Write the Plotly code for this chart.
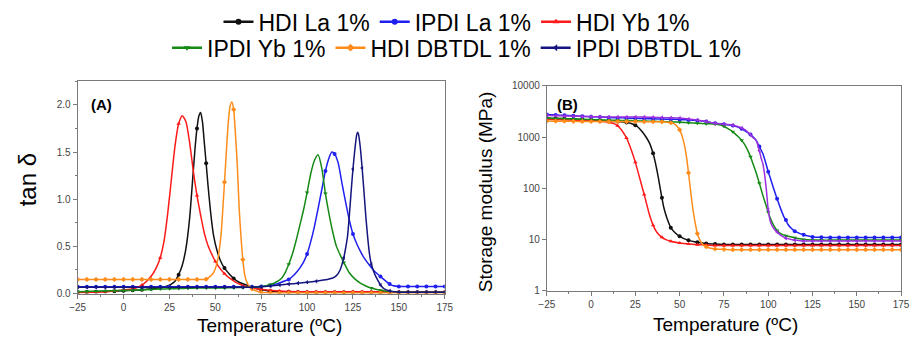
import plotly.graph_objects as go

# ---------------- Data (temperature °C, value) ----------------
series_names = ["HDI La 1%", "IPDI La 1%", "HDI Yb 1%", "IPDI Yb 1%", "HDI DBTDL 1%", "IPDI DBTDL 1%"]

# Panel A: tan delta
A_HDI_La = [(-25,0.015),(-20,0.017),(-15,0.02),(-10,0.022),(-5,0.025),(0,0.03),(5,0.035),(10,0.04),(15,0.05),(20,0.06),
            (23,0.075),(26,0.1),(28,0.13),(30,0.2),(32,0.3),(34,0.48),(36,0.8),(38,1.3),(39,1.55),(40,1.75),(41,1.88),
            (42,1.92),(43,1.82),(44,1.6),(45,1.38),(46,1.15),(47.5,0.85),(49,0.62),(51,0.45),(53,0.34),(55,0.27),(58,0.2),
            (60,0.16),(63,0.12),(67,0.09),(70,0.065),(75,0.04),(80,0.025),(85,0.02),(90,0.018),(95,0.016),(100,0.015),
            (105,0.015),(110,0.015),(115,0.015),(120,0.015),(125,0.015),(130,0.015),(135,0.015),(140,0.015),(145,0.015),
            (150,0.015),(155,0.015),(160,0.015),(165,0.015),(170,0.015),(175,0.015)]
A_IPDI_La = [(-25,0.072),(-20,0.072),(-15,0.072),(-10,0.072),(-5,0.072),(0,0.072),(5,0.072),(10,0.072),(15,0.072),(20,0.072),
             (25,0.072),(30,0.072),(35,0.072),(40,0.072),(45,0.072),(50,0.072),(55,0.072),(60,0.072),(65,0.072),(70,0.072),
             (75,0.074),(80,0.085),(83,0.1),(86,0.12),(88,0.135),(90,0.15),(92,0.18),(94,0.22),(96,0.27),(98,0.33),(100,0.42),
             (102,0.55),(104,0.71),(106,0.9),(108,1.1),(110,1.3),(112,1.44),(113.5,1.5),(115,1.48),(117,1.38),(119,1.17),
             (121,0.97),(123,0.78),(125,0.63),(127,0.53),(129,0.45),(131,0.38),(134,0.3),(137,0.23),(140,0.18),(143,0.13),
             (145,0.1),(147,0.082),(150,0.075),(155,0.075),(160,0.075),(165,0.075),(170,0.075),(175,0.075)]
A_HDI_Yb = [(-25,0.01),(-20,0.012),(-15,0.015),(-10,0.02),(-5,0.028),(0,0.038),(5,0.05),(8,0.07),(10,0.09),(12,0.12),(14,0.16),
            (16,0.21),(18,0.28),(20,0.38),(22,0.55),(24,0.84),(26,1.2),(28,1.56),(30,1.8),(32,1.885),(34,1.82),(36,1.6),
            (38,1.3),(40,1.04),(42,0.83),(44,0.64),(46,0.51),(48,0.42),(50,0.34),(52,0.28),(55,0.21),(58,0.16),(62,0.11),
            (66,0.08),(70,0.06),(75,0.045),(80,0.035),(85,0.027),(90,0.022),(95,0.02),(100,0.02),(105,0.02),(110,0.02),
            (115,0.02),(120,0.02),(125,0.02),(130,0.02),(135,0.02),(140,0.02),(145,0.02),(150,0.02),(155,0.02),(160,0.02),
            (165,0.02),(170,0.02),(175,0.02)]
A_IPDI_Yb = [(-25,0.02),(-20,0.022),(-15,0.025),(-10,0.028),(-5,0.03),(0,0.033),(5,0.036),(10,0.04),(15,0.043),(20,0.047),
             (25,0.05),(30,0.053),(35,0.056),(40,0.058),(45,0.06),(50,0.06),(55,0.06),(60,0.062),(65,0.064),(70,0.067),
             (75,0.072),(78,0.085),(80,0.095),(83,0.12),(86,0.16),(88,0.22),(90,0.31),(92,0.42),(94,0.56),(96,0.72),(98,0.88),
             (100,1.07),(102,1.27),(104,1.41),(106,1.47),(108,1.33),(110,1.06),(112,0.84),(114,0.65),(116,0.5),(118,0.41),
             (120,0.33),(123,0.22),(126,0.155),(129,0.11),(132,0.08),(135,0.058),(140,0.035),(145,0.022),(150,0.017),
             (155,0.015),(160,0.015),(165,0.015),(170,0.015),(175,0.015)]
A_HDI_DBTDL = [(-25,0.15),(-20,0.15),(-15,0.15),(-10,0.15),(-5,0.15),(0,0.15),(5,0.15),(10,0.15),(15,0.15),(20,0.15),
               (25,0.15),(30,0.15),(35,0.15),(40,0.15),(45,0.152),(47,0.18),(49,0.22),(51,0.33),(53,0.6),(55,1.18),(56,1.5),
               (57,1.8),(58,1.98),(59,2.03),(60,1.95),(61,1.68),(62,1.35),(63,0.9),(64,0.6),(65,0.36),(66,0.2),(67,0.13),
               (68,0.09),(70,0.05),(72,0.03),(75,0.012),(80,0.007),(85,0.005),(90,0.005),(95,0.005),(100,0.005),(105,0.005),
               (110,0.005),(115,0.005),(120,0.005),(125,0.005),(130,0.005),(135,0.005),(140,0.005),(145,0.005),(150,0.005),
               (155,0.005),(160,0.005),(165,0.005),(170,0.005),(175,0.005)]
A_IPDI_DBTDL = [(-25,0.066),(-20,0.066),(-15,0.066),(-10,0.066),(-5,0.066),(0,0.066),(5,0.066),(10,0.066),(15,0.066),(20,0.066),
                (25,0.066),(30,0.066),(35,0.066),(40,0.066),(45,0.066),(50,0.066),(55,0.066),(60,0.066),(65,0.067),(70,0.068),
                (75,0.072),(80,0.08),(85,0.09),(90,0.1),(95,0.11),(100,0.12),(105,0.13),(108,0.14),(111,0.15),(114,0.165),
                (116,0.19),(118,0.25),(120,0.38),(121,0.48),(122,0.6),(123,0.82),(124,1.08),(125,1.32),(126,1.52),(127,1.68),
                (127.5,1.71),(128,1.69),(129,1.55),(130,1.33),(131,1.08),(132,0.82),(133,0.6),(134,0.42),(135,0.31),(136,0.25),
                (137,0.2),(138,0.16),(140,0.09),(142,0.05),(145,0.028),(148,0.018),(150,0.015),(155,0.015),(160,0.015),
                (165,0.015),(170,0.015),(175,0.015)]

# Panel B: storage modulus (MPa)
B_HDI_La = [(-25,2350),(-20,2300),(-15,2280),(-10,2250),(-5,2200),(0,2150),(5,2100),(10,2050),(15,2000),(20,1920),(23,1820),
            (25,1700),(27,1500),(29,1250),(31,1000),(33,760),(35,480),(36,350),(37,240),(38,160),(39,100),(40,65),(41,43),
            (42,32),(43,25),(45,17),(47,14),(50,11.5),(55,9.6),(60,8.8),(65,8.3),(70,8.1),(75,8.0),(80,8.0),(85,8.0),(90,8.0),
            (95,8.0),(100,8.0),(105,8.0),(110,8.0),(115,8.0),(120,8.0),(125,8.0),(130,8.0),(135,8.0),(140,8.0),(145,8.0),
            (150,8.0),(155,8.0),(160,8.0),(165,8.0),(170,8.0),(175,8.0)]
B_IPDI_La = [(-25,2750),(-20,2700),(-15,2650),(-10,2600),(-5,2550),(0,2500),(5,2450),(10,2400),(15,2380),(20,2350),(25,2320),
             (30,2300),(35,2270),(40,2250),(45,2220),(50,2200),(55,2150),(60,2100),(65,2000),(70,1850),(75,1780),(80,1680),
             (85,1450),(88,1250),(90,1120),(93,880),(95,650),(97,470),(99,280),(100,210),(101,165),(103,100),(105,62),(107,40),
             (109,27),(110,24),(111,20),(113,16.5),(115,14.5),(117,13.4),(120,12.3),(122,11.8),(125,11.2),(130,11.0),
             (135,10.9),(140,10.9),(145,10.9),(150,10.9),(155,10.9),(160,10.9),(165,10.9),(170,10.9),(175,10.9)]
B_HDI_Yb = [(-25,2250),(-20,2200),(-15,2170),(-10,2130),(-5,2100),(0,2070),(5,2040),(10,1950),(13,1820),(15,1650),(17,1400),
            (19,1100),(20,960),(21,800),(23,520),(25,320),(27,180),(29,100),(30,75),(31,55),(33,30),(35,19),(37,14),(40,11),
            (42,10),(45,9.2),(50,8.5),(55,8.1),(60,7.9),(65,7.8),(70,7.6),(75,7.6),(80,7.6),(85,7.6),(90,7.6),(95,7.6),
            (100,7.6),(105,7.6),(110,7.6),(115,7.6),(120,7.6),(125,7.6),(130,7.6),(135,7.6),(140,7.6),(145,7.6),(150,7.6),
            (155,7.6),(160,7.6),(165,7.6),(170,7.6),(175,7.6)]
B_IPDI_Yb = [(-25,2350),(-20,2300),(-15,2280),(-10,2250),(-5,2220),(0,2200),(5,2170),(10,2150),(15,2120),(20,2100),(25,2080),
             (30,2050),(35,2030),(40,2000),(45,1980),(50,1950),(55,1900),(60,1850),(65,1820),(70,1800),(73,1720),(75,1620),
             (77,1480),(79,1340),(80,1260),(81,1180),(83,1020),(85,860),(87,690),(89,500),(90,410),(91,330),(93,210),(95,125),
             (97,72),(99,44),(100,34),(101,27),(103,19),(105,15),(107,13),(110,11.8),(114,11),(115,10.8),(117,10.4),(120,10),
             (125,9.8),(130,9.7),(135,9.7),(140,9.7),(145,9.7),(150,9.7),(155,9.7),(160,9.7),(165,9.7),(170,9.7),(175,9.7)]
B_HDI_DBTDL = [(-25,2050),(-20,2040),(-15,2030),(-10,2020),(-5,2015),(0,2010),(5,2005),(10,2000),(15,2000),(20,2000),
               (25,2000),(30,1990),(35,1985),(40,1980),(45,1900),(47,1800),(49,1550),(50,1380),(51,1150),(52,880),(53,620),
               (54,380),(55,200),(56,100),(57,52),(58,30),(59,19),(60,13),(61,10.5),(62,9),(63,8),(65,7.2),(67,6.8),(70,6.5),
               (75,6.4),(80,6.3),(85,6.3),(90,6.3),(95,6.3),(100,6.3),(105,6.3),(110,6.3),(115,6.3),(120,6.3),(125,6.3),
               (130,6.3),(135,6.3),(140,6.3),(145,6.3),(150,6.3),(155,6.3),(160,6.3),(165,6.3),(170,6.3),(175,6.3)]
B_IPDI_DBTDL = [(-25,2650),(-20,2600),(-15,2580),(-10,2550),(-5,2520),(0,2500),(5,2480),(10,2450),(15,2450),(20,2450),
                (25,2450),(30,2450),(35,2420),(40,2400),(45,2380),(50,2350),(55,2250),(60,2150),(65,2000),(70,1850),(75,1780),
                (80,1700),(84,1550),(85,1500),(87,1380),(89,1200),(90,1110),(91,1000),(93,880),(94,720),(95,540),(96,390),
                (97,300),(98,180),(99,90),(100,38),(101,24),(102,19),(104,15),(105,14),(106,13),(108,11.5),(110,10.6),
                (114,9.8),(115,9.7),(118,9.4),(120,9.3),(125,9.3),(130,9.3),(135,9.3),(140,9.3),(145,9.3),(150,9.3),
                (155,9.3),(160,9.3),(165,9.3),(170,9.3),(175,9.3)]

x_ticks = [-25, 0, 25, 50, 75, 100, 125, 150, 175]
yA_ticks = [0.0, 0.5, 1.0, 1.5, 2.0]
yB_ticks = [1, 10, 100, 1000, 10000]

# ---------------- Styles ----------------
colors = ["#111111", "#1f1fef", "#ff1a1a", "#158a15", "#ff8c1a", "#15157f"]
colors_B = ["#111111", "#1f1fef", "#ff1a1a", "#158a15", "#ff8c1a", "#9b30e0"]
symbols = ["circle", "circle", "triangle-up", "triangle-down", "diamond", "triangle-left"]
FONT = "Liberation Sans, Arial, sans-serif"

A_data = [A_HDI_La, A_IPDI_La, A_HDI_Yb, A_IPDI_Yb, A_HDI_DBTDL, A_IPDI_DBTDL]
B_data = [B_HDI_La, B_IPDI_La, B_HDI_Yb, B_IPDI_Yb, B_HDI_DBTDL, B_IPDI_DBTDL]

fig = go.Figure()

def add_series(data, color, symbol, xa, ya):
    xs = [p[0] for p in data]
    ys = [p[1] for p in data]
    fig.add_trace(go.Scatter(x=xs, y=ys, mode="lines", line=dict(color=color, width=1.5, shape="spline", smoothing=0.6),
                             showlegend=False, hoverinfo="skip", xaxis=xa, yaxis=ya))
    mx = [p[0] for p in data if p[0] % 5 == 0]
    my = [p[1] for p in data if p[0] % 5 == 0]
    fig.add_trace(go.Scatter(x=mx, y=my, mode="markers", marker=dict(color=color, size=4, symbol=symbol),
                             showlegend=False, hoverinfo="skip", xaxis=xa, yaxis=ya))

for i in range(6):
    add_series(A_data[i], colors[i], symbols[i], "x", "y")
for i in range(6):
    add_series(B_data[i], colors_B[i], symbols[i], "x2", "y2")

# legend entries (no data)
for i, name in enumerate(series_names):
    fig.add_trace(go.Scatter(x=[None], y=[None], mode="lines+markers", name=name,
                             line=dict(color=colors[i], width=2.5),
                             marker=dict(color=colors[i], size=6, symbol=symbols[i]),
                             legend="legend" if i < 3 else "legend2", xaxis="x", yaxis="y"))

axis_common = dict(showline=True, linecolor="#7a7a7a", linewidth=1, mirror=True, showgrid=False, zeroline=False,
                   ticks="outside", ticklen=4, tickcolor="#7a7a7a", tickwidth=1,
                   tickfont=dict(family=FONT, size=10, color="#444444"))

def ann(text, x, y, size, angle=0):
    return dict(text=text, x=x/914, y=1-y/342, xref="paper", yref="paper", showarrow=False,
                xanchor="center", yanchor="middle", textangle=angle,
                font=dict(family=FONT, size=size, color="black"))

fig.update_layout(
    width=914, height=342, margin=dict(l=0, r=0, t=0, b=0),
    paper_bgcolor="white", plot_bgcolor="white",
    font=dict(family=FONT, color="black"),
    xaxis=dict(domain=[71/914, 445/914], anchor="y", range=[-25, 175], tickvals=x_ticks,
               minor=dict(ticks="outside", ticklen=2, dtick=12.5, tick0=0, tickcolor="#7a7a7a"), **axis_common),
    yaxis=dict(domain=[(342-298)/342, (342-78)/342], anchor="x", range=[0, 2.25], tickvals=yA_ticks,
               tickformat=".1f",
               minor=dict(ticks="outside", ticklen=2, dtick=0.25, tick0=0, tickcolor="#7a7a7a"), **axis_common),
    xaxis2=dict(domain=[549/914, 910/914], anchor="y2", range=[-25, 175], tickvals=x_ticks,
                minor=dict(ticks="outside", ticklen=2, dtick=12.5, tick0=0, tickcolor="#7a7a7a"), **axis_common),
    yaxis2=dict(domain=[(342-295)/342, (342-82.7)/342], anchor="x2", type="log", range=[0, 4], tickvals=yB_ticks,
                ticktext=[str(v) for v in yB_ticks], **axis_common),
    legend=dict(orientation="h", x=0.5, xanchor="center", y=1 + 6/342, yanchor="top",
                font=dict(family=FONT, size=23, color="black"), bgcolor="rgba(0,0,0,0)", tracegroupgap=0),
    legend2=dict(orientation="h", x=0.5, xanchor="center", y=1 - 21/342, yanchor="top",
                 font=dict(family=FONT, size=23, color="black"), bgcolor="rgba(0,0,0,0)", tracegroupgap=0),
    annotations=[
        ann("<b>(A)</b>", 95, 102, 15),
        ann("<b>(B)</b>", 570, 102, 15),
        ann("tan δ", 20, 180, 24, -90),
        ann("Storage modulus (MPa)", 486, 192, 19, -90),
        ann("Temperature (ºC)", 266, 331, 19),
        ann("Temperature (ºC)", 731, 330, 19),
    ],
)

fig.write_html("out.html")
